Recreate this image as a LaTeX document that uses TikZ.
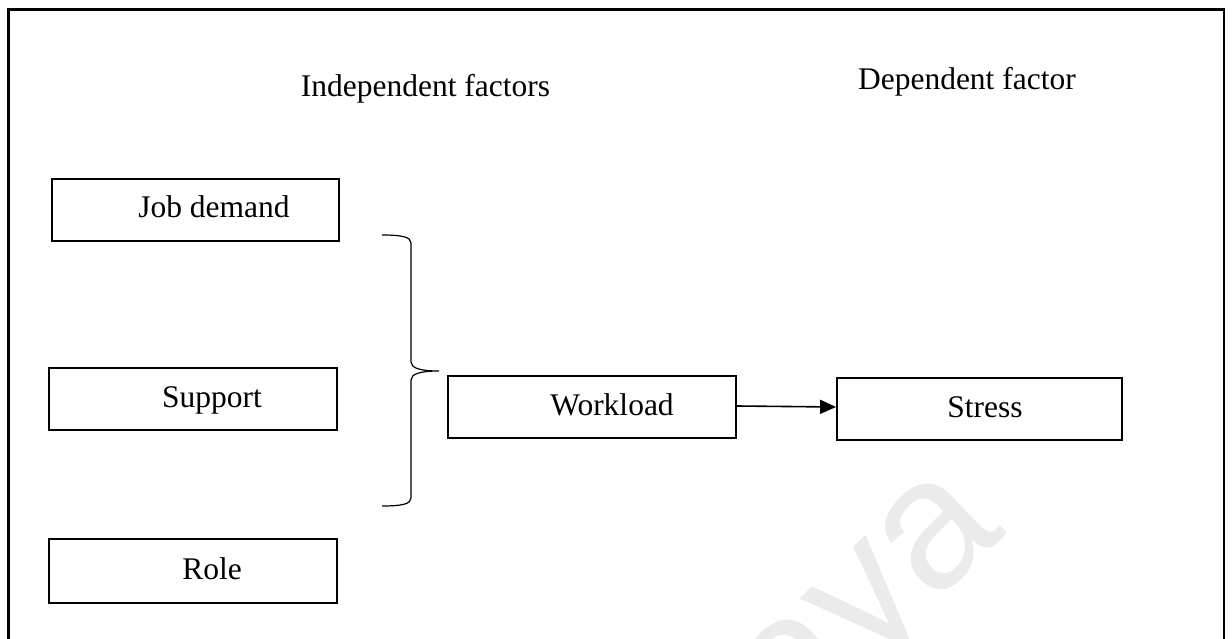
\documentclass[tikz,border=0pt]{standalone}
\usepackage{fontspec}
\setmainfont{Liberation Serif}
\newfontfamily\wmfont{Liberation Sans}
\usetikzlibrary{arrows.meta}
\tikzset{
  factorbox/.style={draw, line width=1.9pt, minimum height=62pt, inner sep=0pt,
    text height=23pt, text depth=7pt, font=\fontsize{31.5}{36}\selectfont},
  heading/.style={inner sep=0pt, anchor=base, font=\fontsize{31.5}{36}\selectfont},
  bracket/.style={line width=1.2pt},
  link/.style={line width=1.6pt, -{Triangle[length=16pt,width=14pt]}},
}
\begin{document}
\begin{tikzpicture}[x=1pt,y=-1pt]
\useasboundingbox (0,0) rectangle (1232,639);
\begin{scope}
\clip (0,0) rectangle (1232,639);
% faint watermark
\node[text=black!8, rotate=44, inner sep=0pt,
      font=\wmfont\fontsize{185}{200}\selectfont] (wm) at (760,706) {Malaya};
% frame, open at the bottom
\draw[line width=2.4pt] (8.5,660) -- (8.5,9.5) -- (1224,9.5) -- (1224,660);
\end{scope}

% headings
\node[heading] (indep) at (425.5,97) {Independent factors};
\node[heading, anchor=base east] (dep) at (1076,90) {Dependent factor};

% factor boxes
\node[factorbox, minimum width=287pt] (job) at (195.5,210) {\hspace*{37pt}Job demand};
\node[factorbox, minimum width=288pt] (support) at (193,399) {\hspace*{38pt}Support};
\node[factorbox, minimum width=288pt, minimum height=64pt] (role) at (193,571) {\hspace*{38pt}Role};
\node[factorbox, minimum width=288pt] (workload) at (592,407) {\hspace*{40pt}Workload};
\node[factorbox, minimum width=285pt] (stress) at (979.5,409) {\hspace*{11pt}Stress};

% grouping brace
\coordinate (bt) at (382,235);
\coordinate (bm) at (439,371);
\coordinate (bb) at (382,506);
\draw[bracket] (bt) .. controls (402,235) and (411,237) .. (411,243)
  -- (411,362) .. controls (411,368) and (420,371) .. (bm)
  .. controls (420,371) and (411,374) .. (411,380)
  -- (411,498) .. controls (411,504) and (402,506) .. (bb);

% arrow to the outcome
\draw[link] (workload.east |- 0,406) -- (stress.west |- 0,407);
\end{tikzpicture}
\end{document}
